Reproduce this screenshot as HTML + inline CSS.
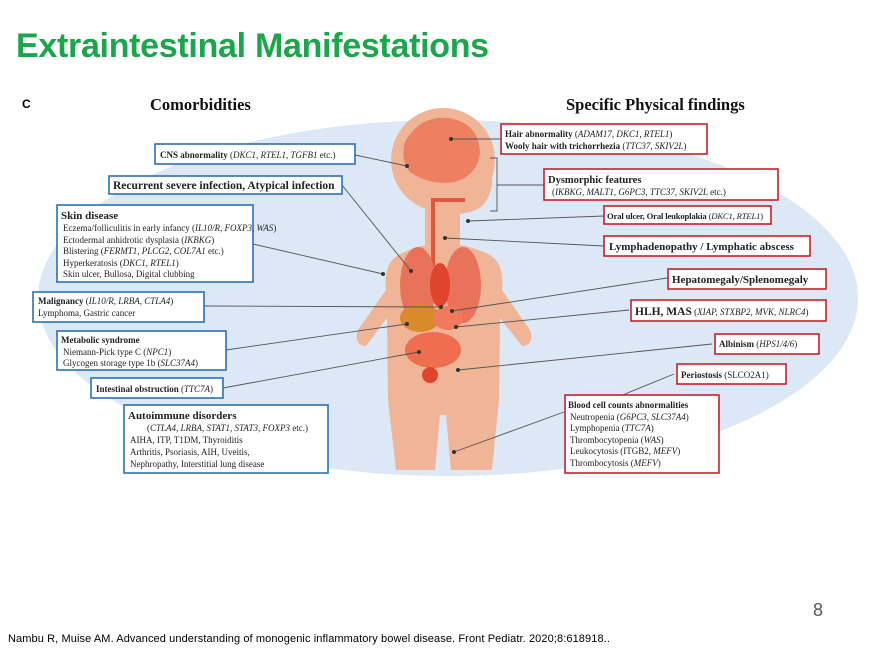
<!DOCTYPE html>
<html><head><meta charset="utf-8"><style>
body{margin:0;width:878px;height:653px;background:#fff;overflow:hidden;position:relative;font-family:"Liberation Serif",serif}
.t{position:absolute;left:16px;top:27px;font:bold 34px "Liberation Sans",sans-serif;color:#1aa64a;letter-spacing:-0.3px}
.c{position:absolute;left:22px;top:97px;font:bold 12px "Liberation Sans",sans-serif}
.n{position:absolute;left:813px;top:600px;font:18px "Liberation Sans",sans-serif;color:#555}
.ref{position:absolute;left:8px;top:633px;font:11px "Liberation Sans",sans-serif;color:#000;letter-spacing:0.1px}
svg{position:absolute;left:0;top:0}
text{font-family:"Liberation Serif",serif;font-size:9px;fill:#222}
.b{font-weight:bold}
.i{font-style:italic}
.bl{fill:#fff;stroke:#2a70b8;stroke-width:1.6}
.rd{fill:#fff;stroke:#c8202a;stroke-width:1.6}
.ln{stroke:#555;stroke-width:0.9;fill:none}
</style></head><body>
<div class="t">Extraintestinal Manifestations</div>
<div class="c">C</div>
<svg width="878" height="653">
<ellipse cx="448" cy="298" rx="410" ry="178" fill="#dce8f5"/>
<text x="150" y="110" class="b" style="font-size:16.5px;fill:#111">Comorbidities</text>
<text x="566" y="110" class="b" style="font-size:16.5px;fill:#111">Specific Physical findings</text>
<!-- child -->
<g fill="#f0b496">
<circle cx="443" cy="160" r="52"/>
<path d="M470 140 Q495 155 492 185 Q488 208 470 212 L455 215 L452 250 Z"/>
<ellipse cx="478" cy="168" rx="9" ry="14"/>
<rect x="425" y="195" width="35" height="55"/>
<path d="M398 255 Q443 232 490 255 Q505 265 502 290 L530 330 Q535 345 522 346 L500 318 L499 400 L492 470 L451 470 L446 415 L440 415 L435 470 L396 470 L388 400 L387 318 L366 346 Q353 345 358 330 L386 290 Q383 265 398 255 Z"/>
</g>
<path d="M405 142 Q420 115 448 118 Q478 122 480 152 Q478 175 455 182 Q430 186 410 172 Q400 160 405 142 Z" fill="#ee8062"/>
<rect x="431" y="198" width="4" height="70" fill="#e8543a"/>
<path d="M431 198 L465 198 L465 202 L435 202 Z" fill="#e8543a"/>
<ellipse cx="418" cy="285" rx="18" ry="38" fill="#e8735a"/>
<ellipse cx="463" cy="285" rx="18" ry="38" fill="#e8735a"/>
<ellipse cx="440" cy="285" rx="10" ry="22" fill="#e0442c"/>
<ellipse cx="420" cy="318" rx="20" ry="14" fill="#d98a2a"/>
<ellipse cx="448" cy="318" rx="15" ry="12" fill="#ef7a5c"/>
<ellipse cx="433" cy="350" rx="28" ry="18" fill="#ef6e50"/>
<ellipse cx="430" cy="375" rx="8" ry="8" fill="#e0442c"/>
<!-- lines -->
<g class="ln">
<line x1="355" y1="155" x2="407" y2="166"/>
<line x1="342" y1="185" x2="411" y2="271"/>
<line x1="253" y1="244" x2="383" y2="274"/>
<line x1="204" y1="306" x2="441" y2="307"/>
<line x1="226" y1="350" x2="407" y2="324"/>
<line x1="223" y1="388" x2="419" y2="352"/>
<line x1="501" y1="139" x2="451" y2="139"/>
<path d="M490 158 L497 158 L497 211 L490 211 M497 185 L544 185"/>
<line x1="604" y1="216" x2="468" y2="221"/>
<line x1="604" y1="246" x2="445" y2="238"/>
<line x1="667" y1="278" x2="452" y2="311"/>
<line x1="629" y1="310" x2="456" y2="327"/>
<line x1="712" y1="344" x2="458" y2="370"/>
<line x1="674" y1="374" x2="620" y2="396"/>
<line x1="564" y1="412" x2="454" y2="452"/>
</g>
<g fill="#333">
<circle cx="407" cy="166" r="2"/><circle cx="411" cy="271" r="2"/><circle cx="383" cy="274" r="2"/>
<circle cx="441" cy="307" r="2"/><circle cx="407" cy="324" r="2"/><circle cx="419" cy="352" r="2"/>
<circle cx="451" cy="139" r="2"/><circle cx="468" cy="221" r="2"/><circle cx="445" cy="238" r="2"/>
<circle cx="452" cy="311" r="2"/><circle cx="456" cy="327" r="2"/><circle cx="458" cy="370" r="2"/><circle cx="454" cy="452" r="2"/>
</g>
<!-- left boxes -->
<rect class="bl" x="155" y="144" width="200" height="20"/>
<text x="160" y="158"><tspan class="b">CNS abnormality</tspan> (<tspan class="i">DKC1, RTEL1, TGFB1</tspan> etc.)</text>
<rect class="bl" x="109" y="176" width="233" height="18"/>
<text x="113" y="189" class="b" style="font-size:11.5px">Recurrent severe infection, Atypical infection</text>
<rect class="bl" x="57" y="205" width="196" height="77"/>
<text x="61" y="219" class="b" style="font-size:11px">Skin disease</text>
<text x="63" y="231">Eczema/folliculitis in early infancy (<tspan class="i">IL10/R, FOXP3, WAS</tspan>)</text>
<text x="63" y="243">Ectodermal anhidrotic dysplasia (<tspan class="i">IKBKG</tspan>)</text>
<text x="63" y="254">Blistering (<tspan class="i">FERMT1, PLCG2, COL7A1</tspan> etc.)</text>
<text x="63" y="266">Hyperkeratosis (<tspan class="i">DKC1, RTEL1</tspan>)</text>
<text x="63" y="277">Skin ulcer, Bullosa, Digital clubbing</text>
<rect class="bl" x="33" y="292" width="171" height="30"/>
<text x="38" y="304"><tspan class="b">Malignancy</tspan> (<tspan class="i">IL10/R, LRBA, CTLA4</tspan>)</text>
<text x="38" y="316">Lymphoma, Gastric cancer</text>
<rect class="bl" x="57" y="331" width="169" height="39"/>
<text x="61" y="343" class="b">Metabolic syndrome</text>
<text x="63" y="355">Niemann-Pick type C (<tspan class="i">NPC1</tspan>)</text>
<text x="63" y="366">Glycogen storage type 1b (<tspan class="i">SLC37A4</tspan>)</text>
<rect class="bl" x="91" y="378" width="132" height="20"/>
<text x="96" y="392"><tspan class="b">Intestinal obstruction</tspan> (<tspan class="i">TTC7A</tspan>)</text>
<rect class="bl" x="124" y="405" width="204" height="68"/>
<text x="128" y="419" class="b" style="font-size:11px">Autoimmune disorders</text>
<text x="147" y="431">(<tspan class="i">CTLA4, LRBA, STAT1, STAT3, FOXP3</tspan> etc.)</text>
<text x="130" y="443">AIHA, ITP, T1DM, Thyroiditis</text>
<text x="130" y="455">Arthritis, Psoriasis, AIH, Uveitis,</text>
<text x="130" y="467">Nephropathy, Interstitial lung disease</text>
<!-- right boxes -->
<rect class="rd" x="501" y="124" width="206" height="30"/>
<text x="505" y="137"><tspan class="b">Hair abnormality</tspan> (<tspan class="i">ADAM17, DKC1, RTEL1</tspan>)</text>
<text x="505" y="149"><tspan class="b">Wooly hair with trichorrhezia</tspan> (<tspan class="i">TTC37, SKIV2L</tspan>)</text>
<rect class="rd" x="544" y="169" width="234" height="31"/>
<text x="548" y="183" class="b" style="font-size:10.5px">Dysmorphic features</text>
<text x="552" y="195">(<tspan class="i">IKBKG, MALT1, G6PC3, TTC37, SKIV2L</tspan> etc.)</text>
<rect class="rd" x="604" y="206" width="167" height="18"/>
<text x="607" y="219" style="font-size:8.6px;letter-spacing:-0.15px"><tspan class="b">Oral ulcer,  Oral leukoplakia</tspan> (<tspan class="i">DKC1, RTEL1</tspan>)</text>
<rect class="rd" x="604" y="236" width="206" height="20"/>
<text x="609" y="250" class="b" style="font-size:11px">Lymphadenopathy / Lymphatic abscess</text>
<rect class="rd" x="668" y="269" width="158" height="20"/>
<text x="672" y="283" class="b" style="font-size:11px">Hepatomegaly/Splenomegaly</text>
<rect class="rd" x="631" y="300" width="195" height="21"/>
<text x="635" y="315"><tspan class="b" style="font-size:11.5px">HLH, MAS</tspan> (<tspan class="i">XIAP, STXBP2, MVK, NLRC4</tspan>)</text>
<rect class="rd" x="715" y="334" width="104" height="20"/>
<text x="719" y="347"><tspan class="b">Albinism</tspan> (<tspan class="i">HPS1/4/6</tspan>)</text>
<rect class="rd" x="677" y="364" width="109" height="20"/>
<text x="681" y="378"><tspan class="b">Periostosis</tspan> (SLCO2A1)</text>
<rect class="rd" x="565" y="395" width="154" height="78"/>
<text x="568" y="408" class="b">Blood cell counts abnormalities</text>
<text x="570" y="420">Neutropenia (<tspan class="i">G6PC3, SLC37A4</tspan>)</text>
<text x="570" y="431">Lymphopenia (<tspan class="i">TTC7A</tspan>)</text>
<text x="570" y="443">Thrombocytopenia (<tspan class="i">WAS</tspan>)</text>
<text x="570" y="454">Leukocytosis (ITGB2, <tspan class="i">MEFV</tspan>)</text>
<text x="570" y="466">Thrombocytosis (<tspan class="i">MEFV</tspan>)</text>
</svg>
<div class="n">8</div>
<div class="ref">Nambu R, Muise AM. Advanced understanding of monogenic inflammatory bowel disease. Front Pediatr. 2020;8:618918..</div>
</body></html>
